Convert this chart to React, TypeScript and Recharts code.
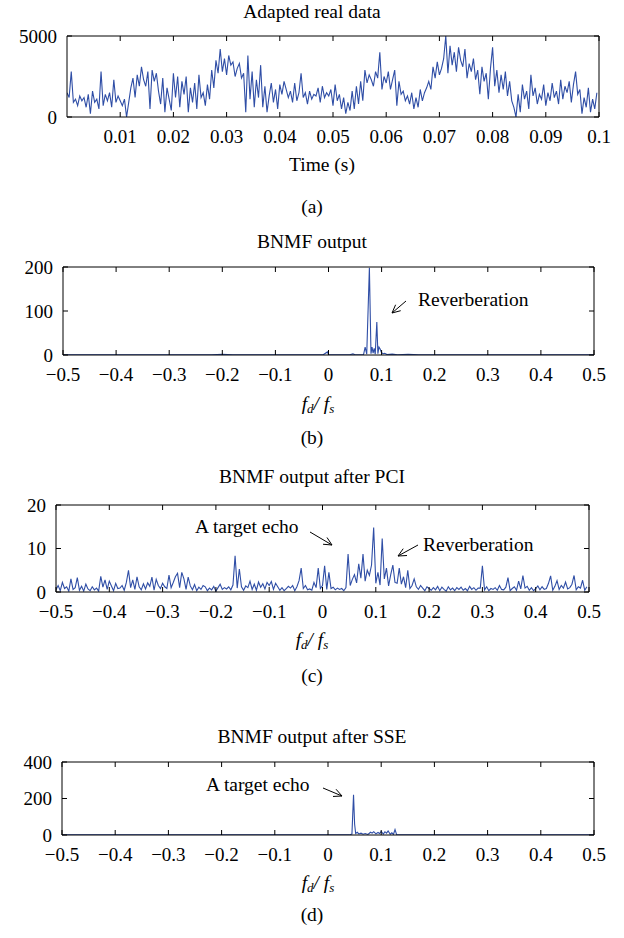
import React from "react";
import { LineChart, Line, XAxis, YAxis } from "recharts";

const FONT = '"Liberation Serif", "DejaVu Serif", serif';
const LINE_COLOR = "#2f4ea6";

// (a) adapted real data, one sample every 0.4 ms
const TIME_STEP = 0.0004;
const realValues = [
  1500, 1200, 2800, 900, 1100, 700, 1300, 1000, 1200, 600,
  1400, 200, 1600, 900, 1100, 500, 2800, 700, 1400, 1000,
  1500, 600, 2300, 900, 1300, 1000, 700, 1100, 0, 900,
  1800, 2400, 1200, 2600, 1900, 3100, 2300, 1900, 2800, 500,
  2900, 2200, 2700, 1600, 800, 2400, 300, 1800, 1100, 400,
  2700, 1200, 2500, 600, 2200, 1400, 2500, 300, 1800, 900,
  2100, 500, 2600, 1200, 1500, 700, 2000, 1100, 2900, 1800,
  3500, 2700, 4200, 2800, 3600, 2600, 3800, 3200, 3400, 2500,
  3000, 3300, 2400, 2700, 300, 3800, 1100, 2800, 600, 2300,
  1200, 3200, 600, 1900, 300, 1300, 2100, 900, 1700, 500,
  2000, 1400, 2200, 1700, 1200, 1600, 900, 2100, 1000, 1500,
  2700, 1200, 1500, 800, 1600, 1100, 1400, 1300, 1800, 900,
  1900, 1200, 1500, 1300, 1700, 700, 2000, 1000, 1400, 500,
  1200, 200, 900, 400, 1600, 500, 1900, 800, 2200, 1000,
  2900, 2100, 2600, 2300, 1900, 2800, 2400, 4000, 1700, 2500,
  2100, 2800, 1700, 2300, 2900, 700, 2200, 1400, 1600, 1000,
  1300, 800, 1500, 500, 1200, 600, 1700, 1000, 1500, 1800,
  2200, 1700, 3100, 2400, 3400, 2600, 3000, 3600, 5000, 2700,
  4400, 3200, 4000, 2800, 4300, 3500, 3100, 4200, 2400, 3300,
  2800, 3600, 2300, 2900, 1400, 3100, 2200, 2700, 1100, 3000,
  4300, 1900, 2900, 1500, 2600, 1700, 2800, 1300, 2200, 1000,
  600, 0, 1400, 300, 2000, 1100, 1600, 500, 2600, 1300,
  1800, 800, 1400, 1100, 2000, 700, 1500, 1000, 2100, 1200,
  1600, 800, 2300, 1100, 1900, 1500, 2200, 900, 2000, 2800,
  1400, 1700, 200, 1200, 600, 1800, 300, 1100, 500, 1500,
];

// (b) BNMF output
const bnmfFreq = [
  -0.5, -0.3, -0.22, -0.2, -0.18, -0.1, -0.01, -0.002, 0.0, 0.004, 0.01, 0.04, 0.046,
  0.05, 0.066, 0.069, 0.072, 0.077, 0.08, 0.082, 0.084, 0.086, 0.088, 0.091, 0.093,
  0.095, 0.097, 0.1, 0.103, 0.106, 0.11, 0.12, 0.13, 0.15, 0.17, 0.2, 0.3, 0.5,
];
const bnmfValues = [
  0.5, 0.5, 0.5, 1.5, 0.5, 0.5, 0.5, 7, 1, 0.5, 0.5, 0.5, 2.5,
  0.5, 1, 18, 2, 198, 3, 18, 4, 15, 2, 75, 3,
  18, 14, 5, 3, 4, 1, 2, 0.5, 1.5, 0.5, 0.5, 0.5, 0.5,
];

// (c) BNMF output after PCI, one bin every 0.004
const PCI_START = -0.5;
const PCI_STEP = 0.004;
const pciValues = [
  0.5, 1.5, 0.3, 2.2, 0.8, 1.2, 0.2, 3.0, 0.6, 1.0,
  3.3, 0.4, 1.3, 0.2, 1.8, 0.7, 0.3, 1.2, 0.5, 0.9,
  0.2, 3.6, 1.1, 2.8, 0.6, 2.5, 1.4, 0.3, 2.0, 0.8,
  0.9, 1.5, 0.4, 2.2, 5.0, 1.0, 2.8, 0.6, 3.5, 1.2,
  0.5, 1.9, 0.7, 2.1, 1.3, 3.4, 0.4, 2.9, 1.5, 0.8,
  2.0, 1.2, 0.8, 3.9, 1.0, 2.2, 3.5, 4.3, 1.0, 4.5,
  3.0, 0.6, 3.4, 1.4, 0.5, 1.7, 0.3, 1.1, 0.6, 1.5,
  1.2, 0.3, 0.9, 0.5, 1.3, 0.2, 1.0, 1.8, 0.6, 1.0,
  0.7, 1.2, 0.5, 1.6, 8.3, 0.9, 5.3, 1.2, 0.4, 1.4,
  1.0, 2.5, 0.6, 1.8, 0.4, 2.3, 1.1, 1.9, 0.7, 2.2,
  1.5, 2.4, 0.6, 2.0, 1.2, 0.4, 1.0, 0.3, 0.8, 1.3,
  0.9, 1.5, 0.3, 1.2, 2.6, 5.5, 0.8, 1.5, 0.5, 0.7,
  0.4, 2.2, 1.0, 5.5, 0.8, 1.5, 6.0, 0.6, 4.5, 0.8,
  1.1, 0.5, 0.9, 0.6, 0.8, 0.3, 1.0, 8.7, 1.5, 2.9,
  4.0, 2.1, 6.5, 3.2, 8.7, 2.5, 5.0, 3.8, 6.2, 14.8,
  2.0, 4.5, 1.6, 12.3, 3.0, 5.5, 1.4, 4.0, 6.2, 2.2,
  2.0, 5.5, 1.8, 3.5, 1.0, 5.0, 0.8, 1.5, 3.0, 1.2,
  0.6, 1.5, 0.9, 0.3, 1.2, 0.8, 0.4, 1.0, 0.5, 1.3,
  0.3, 1.1, 0.6, 0.2, 1.2, 0.5, 0.9, 0.3, 1.0, 0.6,
  1.1, 0.4, 0.8, 0.3, 1.3, 0.6, 1.0, 0.4, 0.9, 0.9,
  6.0, 0.5, 1.2, 0.3, 0.8, 0.6, 1.0, 0.4, 1.5, 0.6,
  0.5, 1.1, 3.3, 0.3, 0.8, 1.2, 0.4, 2.5, 0.7, 3.8,
  0.9, 1.3, 0.4, 1.0, 0.3, 0.8, 1.4, 0.5, 1.2, 0.6,
  0.8, 2.0, 3.7, 0.4, 1.3, 2.6, 0.6, 1.5, 0.9, 2.3,
  0.7, 1.0, 1.8, 3.8, 0.5, 1.2, 0.9, 2.7, 0.4, 1.2,
];

// (d) BNMF output after SSE
const sseFreq = [
  -0.5, -0.2, 0.0, 0.04, 0.045, 0.048, 0.05, 0.052, 0.055, 0.058, 0.062, 0.066,
  0.07, 0.075, 0.08, 0.083, 0.086, 0.09, 0.094, 0.097, 0.1, 0.104, 0.107, 0.11,
  0.113, 0.117, 0.12, 0.123, 0.126, 0.129, 0.135, 0.2, 0.5,
];
const sseValues = [
  0.5, 0.5, 0.5, 0.5, 5, 220, 60, 8, 15, 6, 10, 4,
  8, 3, 15, 10, 18, 6, 14, 8, 20, 5, 18, 10,
  22, 4, 12, 3, 30, 2, 0.5, 0.5, 0.5,
];

const timeTicks = [0.01, 0.02, 0.03, 0.04, 0.05, 0.06, 0.07, 0.08, 0.09, 0.1];
const freqTicks = [-0.5, -0.4, -0.3, -0.2, -0.1, 0, 0.1, 0.2, 0.3, 0.4, 0.5];

const realData = realValues.map((y, i) => ({ x: i * TIME_STEP, y }));
const bnmfData = bnmfFreq.map((x, i) => ({ x, y: bnmfValues[i] }));
const pciData = pciValues.map((y, i) => ({ x: PCI_START + i * PCI_STEP, y }));
const sseData = sseFreq.map((x, i) => ({ x, y: sseValues[i] }));

const fmt = (v: number) => String(v).replace("-", "\u2212");

type Box = { left: number; right: number; top: number; bottom: number };

function Panel(props: {
  data: { x: number; y: number }[];
  box: Box;
  xDomain: [number, number];
  xTicks: number[];
  yDomain: [number, number];
  yTicks: number[];
}) {
  const { data, box, xDomain, xTicks, yDomain, yTicks } = props;
  const top = box.top - 12;
  const height = box.bottom - top + 34;
  const tickStyle = { fill: "#000", fontSize: 19, fontFamily: FONT };
  return (
    <div style={{ position: "absolute", left: 0, top, width: 624, height }}>
      <LineChart
        width={624}
        height={height}
        data={data}
        margin={{ top: box.top - top - 1, right: 624 - box.right - 1, bottom: 0, left: 0 }}
      >
        <XAxis
          xAxisId="b"
          dataKey="x"
          type="number"
          domain={xDomain}
          ticks={xTicks}
          allowDataOverflow
          height={34}
          tickSize={-5}
          tickMargin={18}
          tickFormatter={fmt}
          tick={tickStyle}
          stroke="#000"
          interval={0}
        />
        <XAxis
          xAxisId="t"
          orientation="top"
          dataKey="x"
          type="number"
          domain={xDomain}
          ticks={xTicks}
          allowDataOverflow
          height={1}
          tickSize={-5}
          tickFormatter={() => ""}
          stroke="#000"
          interval={0}
        />
        <YAxis
          yAxisId="l"
          dataKey="y"
          type="number"
          domain={yDomain}
          ticks={yTicks}
          allowDataOverflow
          width={box.left}
          tickSize={-5}
          tickMargin={15}
          tickFormatter={fmt}
          tick={tickStyle}
          stroke="#000"
          interval={0}
        />
        <YAxis
          yAxisId="r"
          orientation="right"
          dataKey="y"
          type="number"
          domain={yDomain}
          ticks={yTicks}
          allowDataOverflow
          width={1}
          tickSize={-5}
          tickFormatter={() => ""}
          stroke="#000"
          interval={0}
        />
        <Line
          xAxisId="t"
          yAxisId="r"
          dataKey="y"
          stroke="none"
          dot={false}
          isAnimationActive={false}
        />
        <Line
          xAxisId="b"
          yAxisId="l"
          dataKey="y"
          stroke={LINE_COLOR}
          strokeWidth={1.1}
          dot={false}
          type="linear"
          isAnimationActive={false}
        />
      </LineChart>
    </div>
  );
}

function Text(props: { cx: number; cy: number; children: React.ReactNode; left?: number }) {
  const style: React.CSSProperties = {
    position: "absolute",
    top: props.cy - 12,
    height: 24,
    lineHeight: "24px",
    fontFamily: FONT,
    fontSize: 19.5,
    color: "#000",
    whiteSpace: "nowrap",
  };
  if (props.left !== undefined) {
    return <div style={{ ...style, left: props.left }}>{props.children}</div>;
  }
  return (
    <div style={{ ...style, left: props.cx - 200, width: 400, textAlign: "center" }}>
      {props.children}
    </div>
  );
}

const FdFs = () => (
  <span style={{ fontStyle: "italic" }}>
    f<sub style={{ fontSize: 13, verticalAlign: "-3px" }}>d</sub>/ f
    <sub style={{ fontSize: 13, verticalAlign: "-3px" }}>s</sub>
  </span>
);

function Arrow({ x1, y1, x2, y2 }: { x1: number; y1: number; x2: number; y2: number }) {
  const a = Math.atan2(y2 - y1, x2 - x1);
  const h = 9;
  const p1 = [x2 - h * Math.cos(a - 0.45), y2 - h * Math.sin(a - 0.45)];
  const p2 = [x2 - h * Math.cos(a + 0.45), y2 - h * Math.sin(a + 0.45)];
  return (
    <g stroke="#000" strokeWidth={1} fill="none">
      <line x1={x1} y1={y1} x2={x2} y2={y2} />
      <polyline points={`${p1[0]},${p1[1]} ${x2},${y2} ${p2[0]},${p2[1]}`} />
    </g>
  );
}

export default function App() {
  return (
    <div style={{ position: "absolute", left: 0, top: 0, width: 624, height: 938, background: "#fff" }}>
      <Text cx={312} cy={12}>Adapted real data</Text>
      <Panel
        data={realData}
        box={{ left: 67, right: 599, top: 36, bottom: 117 }}
        xDomain={[0, 0.1]}
        xTicks={timeTicks}
        yDomain={[0, 5000]}
        yTicks={[0, 5000]}
      />
      <Text cx={322} cy={165}>Time (s)</Text>
      <Text cx={312} cy={207}>(a)</Text>

      <Text cx={312} cy={242}>BNMF output</Text>
      <Panel
        data={bnmfData}
        box={{ left: 63, right: 594, top: 267, bottom: 355 }}
        xDomain={[-0.5, 0.5]}
        xTicks={freqTicks}
        yDomain={[0, 200]}
        yTicks={[0, 100, 200]}
      />
      <Text cx={318} cy={404}><FdFs /></Text>
      <Text cx={312} cy={438}>(b)</Text>
      <Text cx={0} cy={300} left={418}>Reverberation</Text>

      <Text cx={312} cy={477}>BNMF output after PCI</Text>
      <Panel
        data={pciData}
        box={{ left: 56, right: 589, top: 505, bottom: 592 }}
        xDomain={[-0.5, 0.5]}
        xTicks={freqTicks}
        yDomain={[0, 20]}
        yTicks={[0, 10, 20]}
      />
      <Text cx={312} cy={640}><FdFs /></Text>
      <Text cx={312} cy={676}>(c)</Text>
      <Text cx={0} cy={527} left={195}>A target echo</Text>
      <Text cx={0} cy={545} left={423}>Reverberation</Text>

      <Text cx={312} cy={737}>BNMF output after SSE</Text>
      <Panel
        data={sseData}
        box={{ left: 62, right: 594, top: 762, bottom: 835 }}
        xDomain={[-0.5, 0.5]}
        xTicks={freqTicks}
        yDomain={[0, 400]}
        yTicks={[0, 200, 400]}
      />
      <Text cx={318} cy={883}><FdFs /></Text>
      <Text cx={312} cy={915}>(d)</Text>
      <Text cx={0} cy={785} left={206}>A target echo</Text>

      <svg
        width={624}
        height={938}
        style={{ position: "absolute", left: 0, top: 0, pointerEvents: "none" }}
      >
        <Arrow x1={406} y1={301} x2={392} y2={313} />
        <Arrow x1={310} y1={532} x2={332} y2={545} />
        <Arrow x1={418} y1={545} x2={398} y2={556} />
        <Arrow x1={323} y1={788} x2={342} y2={796} />
      </svg>
    </div>
  );
}
